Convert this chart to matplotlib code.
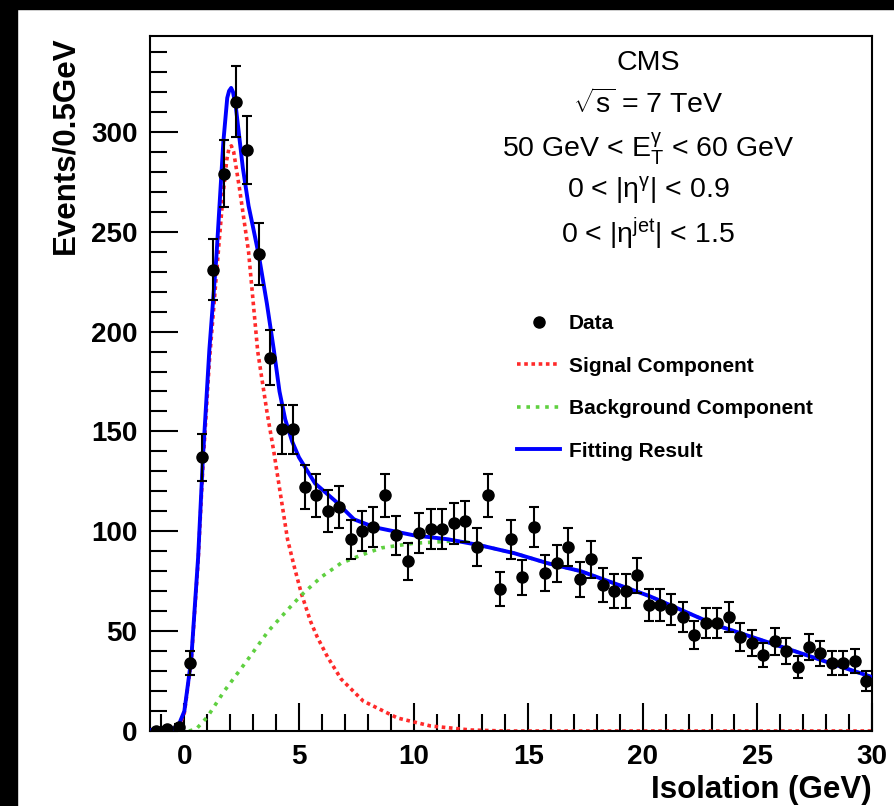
import numpy as np
import matplotlib
matplotlib.use("Agg")
import matplotlib.pyplot as plt
from matplotlib.patches import Rectangle

plt.rcParams['font.family'] = ['Liberation Sans', 'DejaVu Sans']
plt.rcParams['mathtext.fontset'] = 'custom'
plt.rcParams['mathtext.rm'] = 'Liberation Sans'
plt.rcParams['mathtext.it'] = 'Liberation Sans:italic'
plt.rcParams['mathtext.bf'] = 'Liberation Sans:bold'

# data histogram, 0.5 GeV bins
bin_centers = np.arange(-1.25, 30.0, 0.5)
counts = [0, 1, 2, 34, 137, 231, 279, 315, 291, 239, 187, 151, 151, 122, 118, 110,
          112, 96, 100, 102, 118, 98, 85, 99, 101, 101, 104, 105, 92, 118, 71, 96,
          77, 102, 79, 84, 92, 76, 86, 73, 70, 70, 78, 63, 63, 61, 57, 48, 54, 54,
          57, 47, 44, 38, 45, 40, 32, 42, 39, 34, 34, 35, 25]
errors = np.sqrt(counts)

# fit result (blue)
fit_x = [-1.5, -1.0, -0.5, -0.25, 0.0, 0.3, 0.6, 0.81, 1.09, 1.4, 1.7, 1.87, 1.95,
         2.04, 2.12, 2.25, 2.4, 2.55, 2.8, 3.0, 3.25, 3.6, 3.9, 4.15, 4.4, 4.7, 5.0,
         5.7, 6.6, 7.4, 8.3, 10.0, 11.5, 12.9, 14.4, 15.85, 17.3, 20.3, 23.2, 26.1, 30.0]
fit_y = [0.5, 0.5, 1, 3, 10, 36, 87, 137, 191, 238, 295, 317, 320.5,
         322, 320, 312, 297, 282, 263, 252, 238, 214, 191, 170, 156, 145, 137,
         124, 115, 106, 102, 98, 96, 93, 89, 84, 80, 67.5, 53, 42, 27]

# signal component (red)
sig_x = [-1.5, -0.5, -0.25, 0.0, 0.3, 0.6, 0.81, 1.09, 1.4, 1.7, 1.85, 1.95, 2.05,
         2.15, 2.4, 2.8, 3.2, 3.6, 3.9, 4.2, 4.5, 4.8, 5.1, 5.5, 5.8, 6.25, 6.84,
         7.8, 9.3, 10.75, 12.5, 14.0, 30.0]
sig_y = [0, 0, 2, 9, 35, 85, 133, 185, 229, 270, 286, 292, 293,
         290, 272, 240, 190, 160, 140, 118, 96, 82, 69, 55, 47, 37, 26,
         15, 6.5, 2.5, 0.5, 0, 0]

# background component (green)
bkg_x = [0.2, 0.52, 1.0, 1.74, 2.78, 3.66, 4.53, 5.1, 5.96, 6.83, 7.7, 8.6, 10.0,
         11.5, 12.2, 12.9, 14.4, 15.85, 17.3, 20.3, 23.2, 26.1, 30.0]
bkg_y = [0, 1, 7, 20, 36, 50, 61, 68, 77, 84, 88, 91.7, 94,
         95, 95, 93, 89, 84, 80, 67.5, 53, 42, 27]

fig = plt.figure(figsize=(8.95, 8.06), dpi=100)
fig.patches.append(Rectangle((0, 0), 17 / 895, 1, transform=fig.transFigure,
                             color='black', zorder=-1))
fig.patches.append(Rectangle((0, 1 - 9 / 806), 1, 9 / 806, transform=fig.transFigure,
                             color='black', zorder=-1))
ax = fig.add_axes([150 / 895, 75 / 806, 722 / 895, 695 / 806])

ax.plot(sig_x, sig_y, color='#ff2a2a', lw=2.6, ls=(0, (1, 1)), label='Signal Component')
ax.plot(bkg_x, bkg_y, color='#5fd040', lw=2.6, ls=(0, (1, 1.6)), label='Background Component')
ax.plot(fit_x, fit_y, color='#0000ff', lw=2.8, label='Fitting Result', zorder=3)
ax.errorbar(bin_centers, counts, yerr=errors, fmt='o', color='black', ms=8,
            elinewidth=1.5, capsize=3.5, capthick=1.5, zorder=4)
ax.plot([], [], 'o', color='black', ms=8, label='Data')

ax.set_xlim(-1.5, 30)
ax.set_ylim(0, 348)
ax.set_xticks([0, 5, 10, 15, 20, 25, 30])
ax.set_xticks(np.arange(-1, 31, 1), minor=True)
ax.set_yticks([0, 50, 100, 150, 200, 250, 300])
ax.set_yticks(np.arange(0, 350, 10), minor=True)
ax.tick_params(which='both', direction='in', top=False, right=False, width=1.5)
ax.tick_params(which='major', length=20, labelsize=20, pad=9)
ax.tick_params(which='minor', length=12)
for lab in ax.get_xticklabels() + ax.get_yticklabels():
    lab.set_fontweight('bold')
for s in ax.spines.values():
    s.set_linewidth(1.5)

ax.set_xlabel('Isolation (GeV)', fontsize=22.5, fontweight='bold', loc='right', labelpad=4)
ax.set_ylabel('Events/0.5GeV', fontsize=22.5, fontweight='bold', loc='top', labelpad=8)

lines = [
    ('CMS', 0.961),
    (r'$\sqrt{\mathrm{s}}$ = 7 TeV', 0.902),
    (r'50 GeV < $\mathrm{E}_{\mathrm{T}}^{\mathrm{γ}}$ < 60 GeV', 0.838),
    (r'0 < |η$^{\mathrm{γ}}$| < 0.9', 0.778),
    (r'0 < |η$^{\mathrm{jet}}$| < 1.5', 0.716),
]
for txt, yy in lines:
    ax.text(0.69, yy, txt, transform=ax.transAxes, ha='center', va='center', fontsize=20.5)

handles, labels = ax.get_legend_handles_labels()
order = [3, 0, 1, 2]
ax.legend([handles[i] for i in order], [labels[i] for i in order],
          loc='upper left', bbox_to_anchor=(0.483, 0.627), frameon=False,
          prop={'weight': 'bold', 'size': 15}, handlelength=2.05,
          handletextpad=0.4, labelspacing=1.13)

fig.savefig('out.png', dpi=100)
